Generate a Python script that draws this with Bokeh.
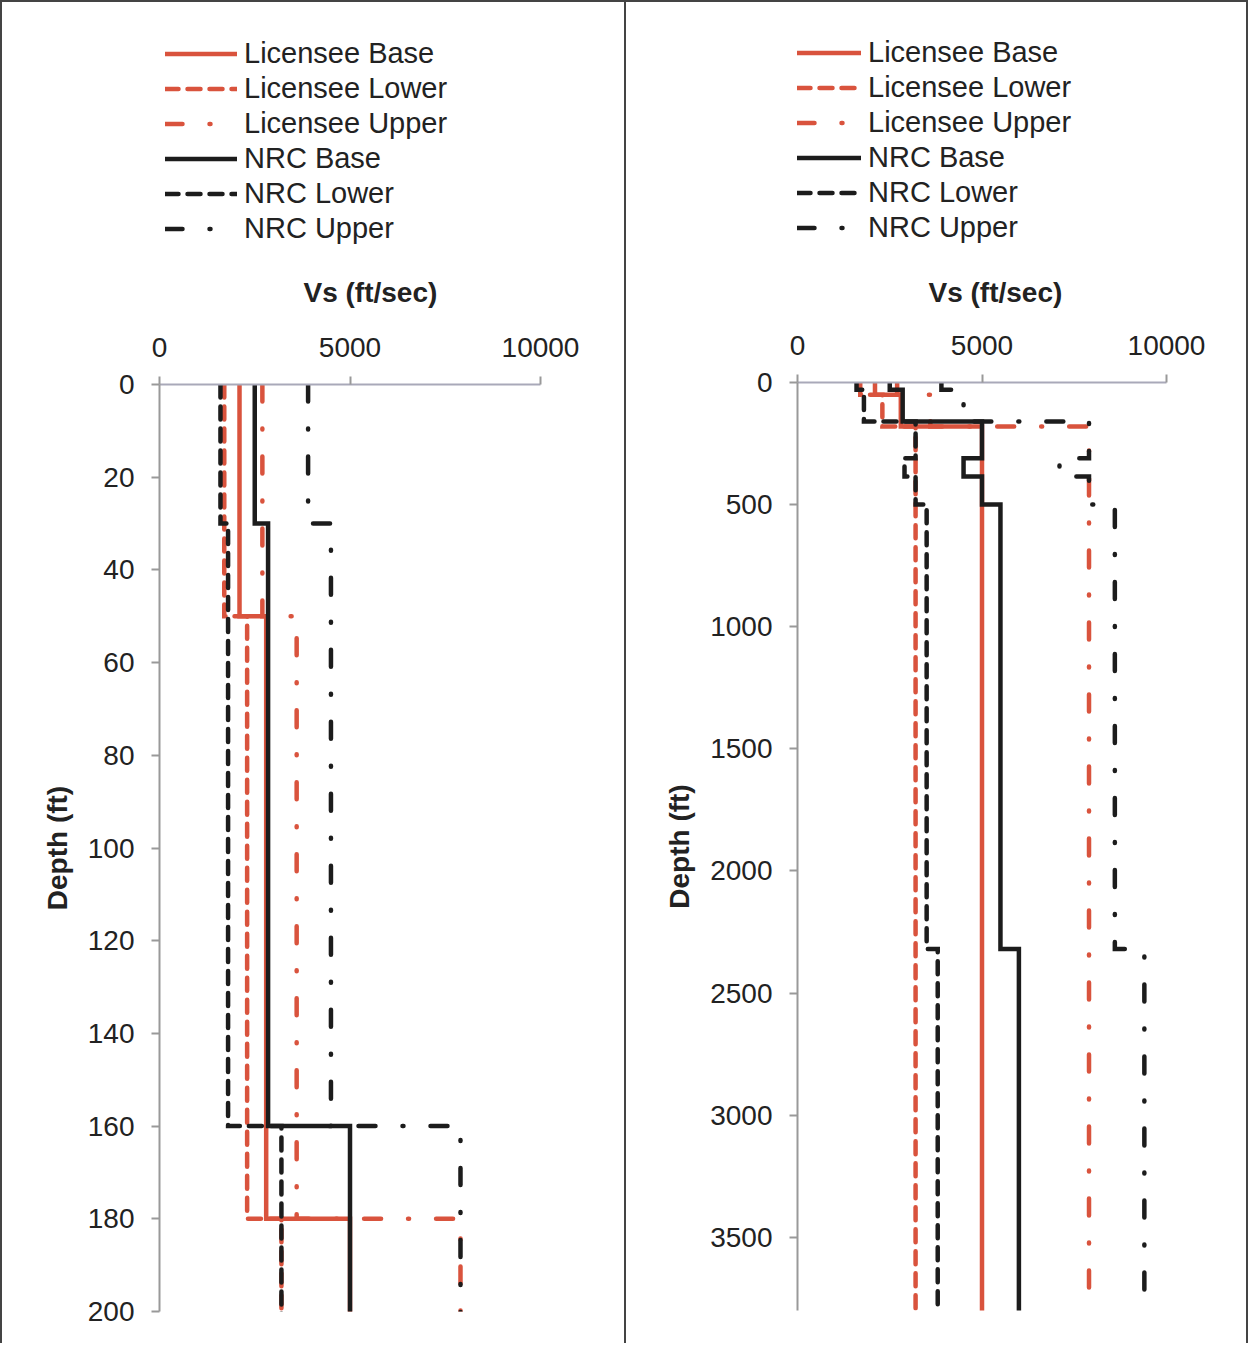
from bokeh.plotting import figure
from bokeh.models import Legend, LegendItem, FixedTicker, Range1d, Label
from bokeh.layouts import row, column
from bokeh.embed import file_html
from bokeh.resources import INLINE

# ---------------- data ----------------
# layer boundaries (ft) and shear-wave velocity per layer (ft/sec)
lic_depths = [0, 50, 180, 3800]
lic_base = [2100, 2800, 5000]
lic_lower = [1700, 2300, 3200]
lic_upper = [2700, 3600, 7900]

nrc_depths = [0, 30, 160, 310, 385, 500, 2320, 3800]
nrc_base = [2500, 2850, 5000, 4500, 5000, 5500, 6000]
nrc_lower = [1600, 1800, 3200, 2900, 3200, 3500, 3800]
nrc_upper = [3900, 4500, 7900, 7100, 7900, 8600, 9400]

series_names = ["Licensee Base", "Licensee Lower", "Licensee Upper",
                "NRC Base", "NRC Lower", "NRC Upper"]

x_ticks = [0, 5000, 10000]
left_y_ticks = [0, 20, 40, 60, 80, 100, 120, 140, 160, 180, 200]
right_y_ticks = [0, 500, 1000, 1500, 2000, 2500, 3000, 3500]
left_y_max = 200
right_y_max = 3800

# ---------------- styling ----------------
RED = "#d9533d"
BLACK = "#1c1c1c"
TXT = "#222222"
FONT = "Liberation Sans"
LW = 4.5
DASH = "13 9"
DASHDOT = "17 27 1 27"
HEAD_H = 310
MAIN_H = 1033

series = [
    (series_names[0], lic_depths, lic_base, RED, "solid"),
    (series_names[1], lic_depths, lic_lower, RED, DASH),
    (series_names[2], lic_depths, lic_upper, RED, DASHDOT),
    (series_names[3], nrc_depths, nrc_base, BLACK, "solid"),
    (series_names[4], nrc_depths, nrc_lower, BLACK, DASH),
    (series_names[5], nrc_depths, nrc_upper, BLACK, DASHDOT),
]


def step_profile(depths, vels):
    xs, ys = [], []
    for i, v in enumerate(vels):
        xs += [v, v]
        ys += [depths[i], depths[i + 1]]
    return xs, ys


def make_header(width, mbl, mbr, legend_x, legend_top, glyph_w, title_x,
                styles):
    """Legend + x-axis title area above the chart (its frame is aligned
    with the chart frame below; x/y ranges are in pixels)."""
    frame_w = width - mbl - mbr
    h = figure(width=width, height=HEAD_H,
               x_range=Range1d(0, frame_w), y_range=Range1d(HEAD_H, 0),
               x_axis_location=None, y_axis_location=None,
               output_backend="svg", toolbar_location=None, title=None,
               min_border_left=mbl, min_border_right=mbr,
               min_border_top=0, min_border_bottom=0)
    h.grid.visible = False
    h.outline_line_color = None
    h.background_fill_color = "white"
    h.border_fill_color = "white"
    h.styles = styles
    items = []
    for name, d, v, color, dash in series:
        # same profiles; they fall outside this pixel-range header frame,
        # only their legend entries are visible here
        xs, ys = step_profile(d, v)
        r = h.line(xs, ys, line_color=color, line_width=LW,
                   line_dash=dash, line_cap="round")
        items.append(LegendItem(label=name, renderers=[r]))
    n = len(items)
    row_h = 35
    leg = Legend(items=items,
                 location=(legend_x, HEAD_H - legend_top - n * row_h))
    leg.label_text_font = FONT
    leg.label_text_font_size = "29px"
    leg.label_text_color = TXT
    leg.glyph_width = glyph_w
    leg.glyph_height = row_h
    leg.label_height = row_h
    leg.label_standoff = 7
    leg.spacing = 0
    leg.padding = 0
    leg.margin = 0
    leg.border_line_color = None
    leg.background_fill_alpha = 0
    h.add_layout(leg, "center")
    h.add_layout(Label(x=title_x, y=290, text="Vs (ft/sec)",
                       text_font=FONT, text_font_size="28px",
                       text_font_style="bold", text_color=TXT,
                       text_align="left", text_baseline="middle"))
    return h


def make_panel(y_max, y_ticks, width, mbl, mbr, mbt, mbb, styles):
    p = figure(width=width, height=MAIN_H,
               x_range=Range1d(0, 10000), y_range=Range1d(y_max, 0),
               x_axis_location="above", output_backend="svg",
               toolbar_location=None, title=None,
               min_border_left=mbl, min_border_right=mbr,
               min_border_top=mbt, min_border_bottom=mbb)
    p.grid.visible = False
    p.outline_line_color = None
    p.background_fill_color = "white"
    p.border_fill_color = "white"
    p.styles = styles

    xa = p.xaxis[0]
    xa.ticker = FixedTicker(ticks=x_ticks)
    xa.major_label_text_font_size = "28px"
    xa.major_label_text_font = FONT
    xa.major_label_text_color = TXT
    xa.axis_line_color = "#a9a9b9"
    xa.axis_line_width = 2
    xa.major_tick_line_color = "#999999"
    xa.major_tick_line_width = 2
    xa.major_tick_in = 0
    xa.major_tick_out = 8
    xa.minor_tick_line_color = None
    xa.major_label_standoff = 20

    ya = p.yaxis[0]
    ya.ticker = FixedTicker(ticks=y_ticks)
    ya.major_label_text_font_size = "28px"
    ya.major_label_text_font = FONT
    ya.major_label_text_color = TXT
    ya.axis_line_color = "#999999"
    ya.axis_line_width = 2
    ya.major_tick_line_color = "#999999"
    ya.major_tick_line_width = 2
    ya.major_tick_in = 0
    ya.major_tick_out = 8
    ya.minor_tick_line_color = None
    ya.major_label_standoff = 17
    ya.axis_label = "Depth (ft)"
    ya.axis_label_text_font = FONT
    ya.axis_label_text_font_size = "28px"
    ya.axis_label_text_font_style = "bold"
    ya.axis_label_text_color = TXT
    ya.axis_label_standoff = 12

    for name, d, v, color, dash in series:
        xs, ys = step_profile(d, v)
        p.line(xs, ys, line_color=color, line_width=LW,
               line_dash=dash, line_cap="round", line_join="miter")
    return p


B = "2px solid #444"
L_W, L_MBL, L_MBR = 626, 157, 88
R_W, R_MBL, R_MBR = 622, 171, 82

left_head = make_header(L_W, L_MBL, L_MBR, 6, 33.5, 72, 144,
                        {"border-top": B, "border-left": B, "border-right": B})
left_main = make_panel(left_y_max, left_y_ticks, L_W, L_MBL, L_MBR, 74, 32,
                       {"border-left": B, "border-right": B})
right_head = make_header(R_W, R_MBL, R_MBR, 0, 32.5, 64, 131,
                         {"border-top": B, "border-right": B})
right_main = make_panel(right_y_max, right_y_ticks, R_W, R_MBL, R_MBR, 72, 33,
                        {"border-right": B})

layout = row(column(left_head, left_main), column(right_head, right_main))
open("out.html", "w").write(file_html(layout, INLINE))
